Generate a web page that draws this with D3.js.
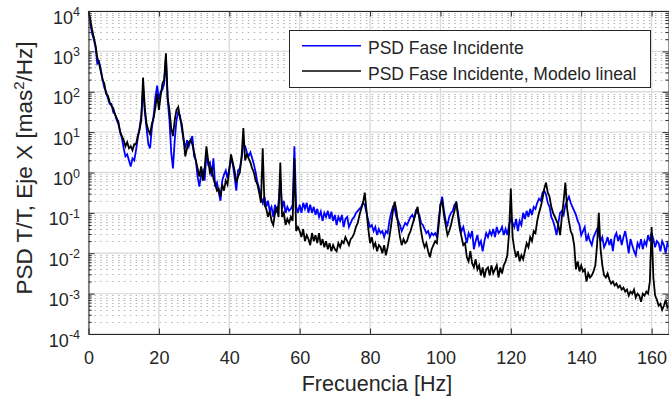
<!DOCTYPE html>
<html>
<head>
<meta charset="utf-8">
<script src="https://cdn.jsdelivr.net/npm/d3@7/dist/d3.min.js"></script>
<style>
  body { margin: 0; background: #fff; }
  svg { display: block; }
  text { font-family: "Liberation Sans", Arial, Helvetica, sans-serif; fill: #262626; }
</style>
</head>
<body>
<svg id="chart" width="669" height="400"></svg>
<script>
// Frequency resolution of the spectra (Hz per bin, first bin at 0 Hz)
const freqStep = 0.5;

// log10 of the PSD, "PSD Fase Incidente" (blue)
const psdIncidenteLog10 = [
  4.0, 3.7, 3.45, 3.3, 3.1, 2.7, 2.75, 2.55, 2.3, 2.1,
  2.0, 1.85, 1.7, 1.7, 1.5, 1.45, 1.3, 1.2, 1.0, 0.85,
  0.6, 0.4, 0.45, 0.3, 0.15, 0.35, 0.3, 0.55, 0.85, 1.1,
  1.4, 2.1, 1.5, 1.1, 0.7, 0.6, 1.1, 1.4, 1.85, 2.15,
  1.8, 2.0, 2.05, 2.2, 2.85, 1.8, 1.3, 0.5, 0.1, 0.8,
  1.3, 1.5, 1.4, 1.1, 0.8, 0.6, 0.8, 0.65, 0.8, 0.9,
  0.4, 0.3, -0.1, -0.35, -0.05, 0.05, -0.2, 0.45, 0.2, 0.25,
  -0.1, 0.35, -0.35, -0.25, -0.5, -0.7, -0.2, -0.05, 0.05, -0.15,
  0.1, 0.35, 0.2, -0.1, -0.45, 0.05, 0.1, 0.35, 0.7, 0.65,
  0.5, 0.4, 0.5, 0.35, 0.2, 0.0, -0.25, -0.4, -0.6, -0.75,
  -0.6, -0.85, -0.7, -0.95, -0.85, -1.1, -0.8, -1.0, -0.75, -0.2,
  -0.9, -0.7, -1.0, -0.85, -0.95, -0.9, -0.8, 0.65, -0.85, -1.0,
  -0.8, -1.0, -0.75, -0.9, -0.75, -1.0, -0.8, -1.0, -0.85, -1.05,
  -0.9, -1.1, -0.97, -1.2, -1.0, -1.1, -0.95, -1.15, -0.97, -1.2,
  -1.05, -1.3, -1.1, -1.2, -1.05, -1.35, -1.15, -1.1, -1.35, -1.25,
  -1.15, -1.1, -1.0, -0.95, -0.9, -0.85, -0.75, -0.8, -1.0, -1.2,
  -1.35, -1.3, -1.45, -1.35, -1.55, -1.4, -1.5, -1.45, -1.6, -1.45,
  -1.5, -1.2, -1.0, -0.85, -0.9, -1.1, -1.2, -1.3, -1.45, -1.35,
  -1.25, -1.3, -1.2, -1.1, -1.05, -1.15, -0.95, -1.0, -1.05, -1.25,
  -1.3, -1.4, -1.5, -1.45, -1.6, -1.5, -1.55, -1.5, -1.6, -1.2,
  -0.8, -0.6, -0.95, -1.2, -1.3, -1.1, -1.0, -0.95, -0.8, -0.75,
  -1.0, -1.3, -1.45, -1.35, -1.55, -1.75, -1.5, -1.6, -1.45, -1.9,
  -1.7, -1.55, -1.8, -1.7, -1.95, -1.7, -1.5, -1.6, -1.45, -1.55,
  -1.4, -1.6, -1.35, -1.5, -1.45, -1.35, -1.55, -1.4, -1.55, -1.3,
  -1.15, -1.25, -1.35, -1.15, -1.45, -1.2, -1.3, -1.0, -1.15, -0.95,
  -1.1, -0.9, -1.05, -0.85, -0.9, -0.75, -0.65, -0.7, -0.5, -0.45,
  -0.55, -0.75, -0.85, -1.1, -1.2, -1.35, -1.55, -1.25, -1.0, -0.95,
  -1.05, -0.8, -0.7, -0.6, -0.75, -0.85, -0.95, -1.05, -1.2, -1.3,
  -1.55, -1.45, -1.35, -1.7, -1.55, -1.7, -1.8, -1.6, -1.5, -1.4,
  -1.55, -1.7, -1.6, -1.85, -1.75, -1.6, -1.8, -1.65, -1.95, -1.6,
  -1.5, -1.7, -1.55, -1.8, -1.6, -1.45, -1.7, -2.0, -1.65, -1.8,
  -1.95, -2.05, -1.75, -1.85, -1.65, -1.9, -1.7, -1.8, -1.55, -1.7,
  -1.5, -1.65, -1.85, -1.7, -1.75, -1.95, -1.7, -1.8, -2.0, -1.75,
  -1.85
];

// log10 of the PSD, "PSD Fase Incidente, Modelo lineal" (black)
const psdModeloLinealLog10 = [
  4.0, 3.8, 3.55, 3.35, 3.15, 2.85, 2.7, 2.5, 2.3, 2.2,
  1.95, 1.9, 1.75, 1.65, 1.6, 1.45, 1.35, 1.25, 1.0, 0.9,
  0.8, 0.65, 0.75, 0.6, 0.65, 0.55, 0.7, 0.7, 0.9, 1.05,
  1.3, 2.35, 1.6, 1.2, 1.05, 0.95, 1.2, 1.35, 1.6, 1.95,
  1.55, 1.9, 2.2, 2.3, 2.95, 1.85, 1.55, 1.1, 0.9, 1.3,
  1.55, 1.62, 1.35, 1.2, 0.85, 0.4, 0.6, 0.75, 0.8, 0.7,
  0.5, 0.3, 0.1, -0.1, 0.15, -0.2, 0.1, 0.65, 0.3, 0.0,
  0.1, -0.15, -0.3, -0.45, -0.4, -0.6, -0.3, -0.45, -0.2, -0.3,
  0.05, 0.45, 0.25, 0.05, -0.25, -0.1, 0.0, 0.4, 1.1, 0.3,
  0.45, 0.35, 0.25, 0.1, 0.0, -0.2, -0.3, -0.5, -0.75, 0.6,
  -0.8, -0.9, -1.1, -0.95, -1.2, -1.3, -1.0, -0.85, -1.1, 0.25,
  -1.1, -1.0, -1.3, -1.15, -1.25, -1.1, -1.2, 0.35, -1.45, -1.35,
  -1.45, -1.6, -1.4, -1.7, -1.55, -1.65, -1.8, -1.5, -1.7, -1.55,
  -1.75, -1.5, -1.8, -1.65, -1.85, -1.7, -1.9, -1.75, -1.95, -1.8,
  -1.9, -1.95, -1.75, -1.85, -1.7, -1.75, -1.6, -1.7, -1.8, -1.65,
  -1.6, -1.5, -1.35, -1.25, -1.05, -0.9, -0.75, -0.5, -0.95, -1.4,
  -1.75, -1.6, -1.85, -1.75, -1.95, -1.8, -1.85, -2.0, -1.8, -2.05,
  -1.85, -1.6, -1.3, -0.95, -0.72, -0.95, -1.3, -1.6, -1.8, -1.65,
  -1.75, -1.7, -1.55, -1.45, -1.3, -1.15, -1.0, -0.85, -1.15, -1.45,
  -1.7, -1.85, -1.75, -1.95, -2.1, -1.9, -1.8, -1.7, -1.75, -1.3,
  -0.8, -0.7, -1.05, -1.3, -1.55, -1.45, -1.3, -1.1, -0.95, -0.72,
  -1.1, -1.4, -1.6, -1.8, -1.75, -2.1, -2.2, -1.95, -2.25, -2.35,
  -2.15, -2.4, -2.3, -2.55, -2.35, -2.6, -2.4, -2.35, -2.55, -2.3,
  -2.5, -2.4, -2.3, -2.6, -2.35, -2.5, -2.3, -2.2, -2.05, -1.5,
  -0.4, -1.6, -1.9, -2.1, -1.95, -2.2, -2.05, -2.15, -1.95, -1.75,
  -1.85, -1.6, -1.7, -1.45, -1.5, -1.2, -1.0, -0.85, -0.65, -0.4,
  -0.25, -0.5, -0.6, -0.85, -1.0, -1.1, -1.2, -1.3, -1.55, -1.1,
  -0.7, -0.25, -0.9, -1.2, -1.45, -1.55, -1.8, -2.4, -2.2, -2.45,
  -2.3, -2.45, -2.4, -2.7, -2.5, -2.6, -2.55, -2.45, -2.3, -1.8,
  -1.0, -1.9, -2.3, -2.55, -2.6, -2.5, -2.65, -2.75, -2.7, -2.8,
  -2.75, -2.85, -2.8, -2.9, -2.85, -2.95, -2.9, -3.05, -2.95, -3.0,
  -2.9, -3.1, -3.0, -3.05, -3.2, -3.0, -3.05, -2.95, -3.0, -2.7,
  -1.35, -2.6, -3.05, -3.15, -3.3, -3.25, -3.4, -3.3, -3.15, -3.35,
  -3.3
];

const seriesNames = ["PSD Fase Incidente", "PSD Fase Incidente, Modelo lineal"];
const seriesColors = ["#0000ff", "#000000"];

const xTickValues = [0, 20, 40, 60, 80, 100, 120, 140, 160];
const yTickExponents = [-4, -3, -2, -1, 0, 1, 2, 3, 4];
const xLabelText = "Frecuencia [Hz]";

// ---- layout ----
const svg = d3.select("#chart");
const plot = { left: 88.5, right: 668.5, top: 11, bottom: 334 };
const axisColor = "#262626";

const x = d3.scaleLinear().domain([0, 164.8]).range([plot.left, plot.right]);
const y = d3.scaleLog().domain([1e-4, 1e4]).range([plot.bottom, plot.top]);

const majorY = yTickExponents.map(e => Math.pow(10, e));
const minorY = [];
yTickExponents.slice(0, -1).forEach(e => {
  for (let m = 2; m <= 9; m++) minorY.push(m * Math.pow(10, e));
});

svg.append("defs").append("clipPath").attr("id", "plot-clip")
  .append("rect")
  .attr("x", plot.left).attr("y", plot.top)
  .attr("width", plot.right - plot.left).attr("height", plot.bottom - plot.top);

// ---- grid ----
const grid = svg.append("g");
grid.selectAll("line.minor-y").data(minorY).join("line")
  .attr("class", "minor-y")
  .attr("x1", plot.left).attr("x2", plot.right)
  .attr("y1", d => Math.round(y(d)) + 0.5).attr("y2", d => Math.round(y(d)) + 0.5)
  .attr("stroke", "#b4b4b4").attr("stroke-width", 1)
  .attr("stroke-dasharray", "1.5,4.4");
grid.selectAll("line.major-y").data(majorY).join("line")
  .attr("class", "major-y")
  .attr("x1", plot.left).attr("x2", plot.right)
  .attr("y1", d => y(d)).attr("y2", d => y(d))
  .attr("stroke", "#dcdcdc").attr("stroke-width", 1.4);
grid.selectAll("line.major-x").data(xTickValues).join("line")
  .attr("class", "major-x")
  .attr("x1", d => x(d)).attr("x2", d => x(d))
  .attr("y1", plot.top).attr("y2", plot.bottom)
  .attr("stroke", "#dcdcdc").attr("stroke-width", 1.4);

// ---- series ----
const line = d3.line()
  .x((d, i) => x(i * freqStep))
  .y(d => y(Math.pow(10, d)));

const series = svg.append("g").attr("clip-path", "url(#plot-clip)");
[psdIncidenteLog10, psdModeloLinealLog10].forEach((vals, k) => {
  series.append("path")
    .datum(vals)
    .attr("fill", "none")
    .attr("stroke", seriesColors[k])
    .attr("stroke-width", 1.8)
    .attr("stroke-linejoin", "miter")
    .attr("d", line);
});

// ---- axes (ticks point inward, box on all four sides) ----
function styleAxis(g) {
  g.selectAll(".domain").attr("stroke", axisColor).attr("stroke-width", 1);
  g.selectAll(".tick line").attr("stroke", axisColor).attr("stroke-width", 1);
}

svg.append("g")
  .attr("transform", `translate(0,${plot.bottom})`)
  .call(d3.axisBottom(x).tickValues(xTickValues).tickSize(-5.5).tickSizeOuter(0).tickPadding(17))
  .call(styleAxis)
  .call(g => g.selectAll(".tick text")
    .attr("fill", axisColor).style("font-size", "18px")
    .style("font-family", '"Liberation Sans", Arial, sans-serif'));

svg.append("g")
  .attr("transform", `translate(0,${plot.top})`)
  .call(d3.axisTop(x).tickValues(xTickValues).tickSize(-5.5).tickSizeOuter(0).tickFormat(""))
  .call(styleAxis);

[[d3.axisLeft, plot.left], [d3.axisRight, plot.right]].forEach(([axisFn, xPos]) => {
  svg.append("g")
    .attr("transform", `translate(${xPos},0)`)
    .call(axisFn(y).tickValues(majorY).tickSize(-6).tickSizeOuter(0).tickFormat(""))
    .call(styleAxis);
  svg.append("g")
    .attr("transform", `translate(${xPos},0)`)
    .call(axisFn(y).tickValues(minorY).tickSize(-3.2).tickSizeOuter(0).tickFormat(""))
    .call(styleAxis)
    .call(g => g.select(".domain").remove());
});

// y tick labels as powers of ten
const yLabels = svg.append("g");
yTickExponents.forEach(e => {
  const t = yLabels.append("text")
    .attr("x", 80)
    .attr("y", y(Math.pow(10, e)) + 12.5)
    .attr("text-anchor", "end")
    .style("font-size", "18px");
  t.append("tspan").text("10");
  t.append("tspan").attr("dy", -7.5).style("font-size", "12.5px").text(String(e));
});

// axis titles
svg.append("text")
  .attr("x", 377).attr("y", 391)
  .attr("text-anchor", "middle")
  .style("font-size", "21.5px")
  .text(xLabelText);

const yTitle = svg.append("text")
  .attr("transform", "translate(32,168) rotate(-90)")
  .attr("text-anchor", "middle")
  .style("font-size", "22.5px");
yTitle.append("tspan").text("PSD T/T, Eje X [mas");
yTitle.append("tspan").attr("dy", -8).style("font-size", "15px").text("2");
yTitle.append("tspan").attr("dy", 8).text("/Hz]");

// ---- legend ----
const legend = svg.append("g");
legend.append("rect")
  .attr("x", 289.5).attr("y", 30.5).attr("width", 361).attr("height", 57)
  .attr("fill", "#fff").attr("stroke", axisColor).attr("stroke-width", 1);
const legendRows = [45.7, 71];
seriesNames.forEach((name, k) => {
  legend.append("line")
    .attr("x1", 302).attr("x2", 361)
    .attr("y1", legendRows[k]).attr("y2", legendRows[k])
    .attr("stroke", seriesColors[k]).attr("stroke-width", 1.5);
  legend.append("text")
    .attr("x", 368).attr("y", legendRows[k] + 8.6)
    .style("font-size", "17.5px")
    .text(name);
});
</script>
</body>
</html>
